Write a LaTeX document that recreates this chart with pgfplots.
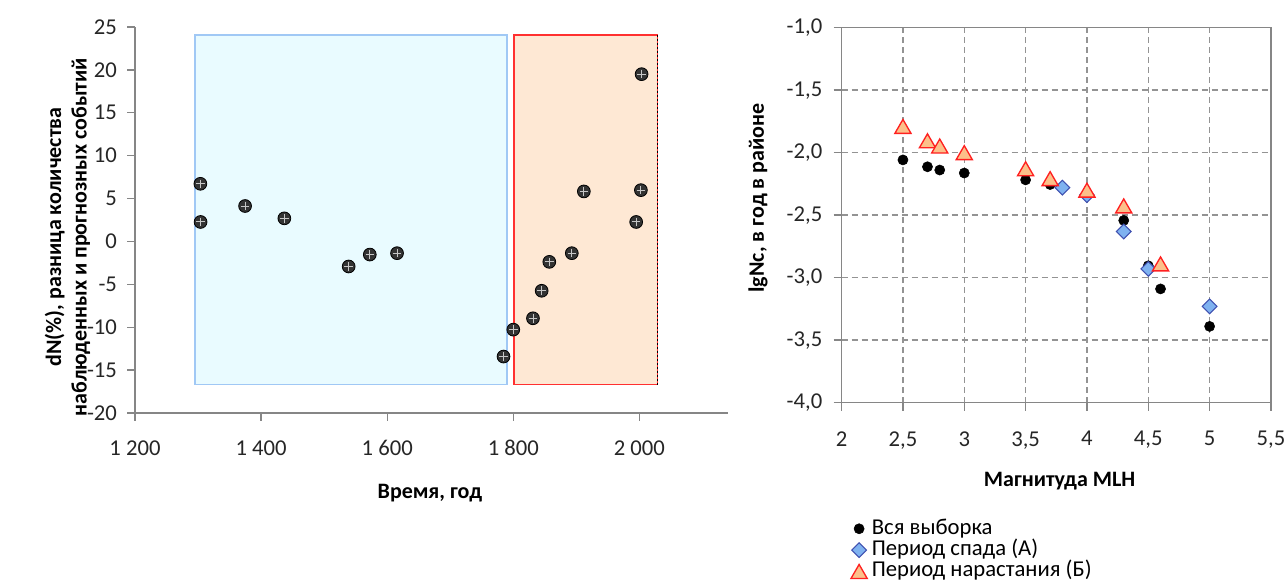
\documentclass[border=0pt]{standalone}
\usepackage{fontspec}
\setmainfont{Carlito}
\usepackage{pgfplots}
\pgfplotsset{compat=1.18}
\definecolor{axgray}{HTML}{868686}
\definecolor{bluefill}{HTML}{E9FBFF}
\definecolor{blueedge}{HTML}{A0C8F5}
\definecolor{orfill}{HTML}{FEE8D4}
\definecolor{rededge}{HTML}{FF3030}
\definecolor{diamfill}{HTML}{7FB2F0}
\definecolor{diamedge}{HTML}{3F50B0}
\definecolor{trifill}{HTML}{FCC08A}
\definecolor{triedge}{HTML}{FF2020}
\pgfplotstableread{
x y
1303.7 6.72
1304.0 2.27
1374.6 4.13
1436.9 2.69
1538.9 -2.92
1572.4 -1.53
1615.6 -1.37
1784.5 -13.42
1800.0 -10.28
1831.2 -8.96
1845.0 -5.75
1857.1 -2.38
1892.8 -1.37
1911.9 5.83
1994.9 2.27
2002.4 5.98
2003.5 19.50
}\dNdata
\pgfplotstableread{
x y
2.5 -2.058
2.7 -2.113
2.8 -2.139
3.0 -2.163
3.5 -2.218
3.7 -2.255
4.0 -2.330
4.3 -2.542
4.5 -2.905
4.6 -3.090
5.0 -3.390
}\allsample
\pgfplotstableread{
x y
3.8 -2.280
4.0 -2.340
4.3 -2.630
4.5 -2.930
5.0 -3.230
}\periodA
\pgfplotstableread{
x y
2.5 -1.790
2.7 -1.905
2.8 -1.947
3.0 -2.000
3.5 -2.129
3.7 -2.208
4.0 -2.300
4.3 -2.426
4.6 -2.890
}\periodB
\begin{document}
\begin{tikzpicture}[x=1pt,y=1pt]
\useasboundingbox (0,0) rectangle (963.75,438);
% ---------- left chart ----------
\begin{axis}[
  at={(101.25pt,128.25pt)}, anchor=south west,
  scale only axis, width=444.5pt, height=289.5pt,
  xmin=1200, xmax=2140, ymin=-20, ymax=25,
  axis x line*=bottom, axis y line*=left,
  axis line style={axgray, line width=1pt, -},
  xtick={1200,1400,1600,1800,2000},
  xticklabels={1 200,1 400,1 600,1 800,2 000},
  ytick={-20,-15,-10,-5,0,5,10,15,20,25},
  yticklabels={-20,-15,-10,-5,0,5,10,15,20,25},
  tick align=outside, major tick length=6pt,
  tick style={axgray, line width=1pt},
  ticklabel style={font=\fontsize{17}{20}\selectfont, text=black!85},
  xticklabel style={yshift=-11pt},
  yticklabel style={xshift=-4pt},
  clip=false,
]
\addplot[fill=bluefill, draw=blueedge, line width=1.2pt] coordinates {(1295,-16.7) (1790,-16.7) (1790,24.1) (1295,24.1) (1295,-16.7)};
\addplot[fill=orfill, draw=rededge, line width=1.2pt] coordinates {(1801,-16.7) (2029,-16.7) (2029,24.1) (1801,24.1) (1801,-16.7)};
\addplot[black, dotted, line width=1pt] coordinates {(2029,-16.7) (2029,24.1)};
\addplot[only marks, mark=*, mark size=4.8pt, mark options={fill=black!80, draw=black, line width=0.6pt}] table[x=x,y=y] {\dNdata};
\addplot[only marks, mark=+, mark size=3.2pt, mark options={draw=gray!45, line width=0.7pt}] table[x=x,y=y] {\dNdata};
\end{axis}
% ---------- right chart ----------
\begin{axis}[
  at={(631.2pt,136pt)}, anchor=south west,
  scale only axis, width=322pt, height=281.25pt,
  xmin=2, xmax=5.5, ymin=-4, ymax=-1,
  xtick={2,2.5,3,3.5,4,4.5,5,5.5},
  xticklabels={2,{2,5},3,{3,5},4,{4,5},5,{5,5}},
  ytick={-4,-3.5,-3,-2.5,-2,-1.5,-1},
  yticklabels={{-4,0},{-3,5},{-3,0},{-2,5},{-2,0},{-1,5},{-1,0}},
  xtick pos=bottom, ytick pos=left,
  tick align=outside, major tick length=6pt,
  tick style={axgray, line width=1pt},
  axis line style={axgray, line width=1pt},
  grid=major, major grid style={gray!85, line width=1pt, dash pattern=on 4.5pt off 3pt},
  ticklabel style={font=\fontsize{17}{20}\selectfont, text=black!85},
  xticklabel style={yshift=-12pt},
  yticklabel style={xshift=-5pt},
  legend cell align=left,
  legend style={at={(0.012,-0.300)}, anchor=north west, draw=none, fill=none,
    font=\fontsize{17}{17}\selectfont, row sep=0pt,
    nodes={inner sep=0.5pt, text height=11.5pt, text depth=3.5pt},
    /tikz/every odd column/.append style={column sep=3pt}},
  clip=false,
]
\addplot[only marks, mark=*, mark size=3.8pt, mark options={fill=black, draw=black}] table[x=x,y=y] {\allsample};
\addlegendentry{Вся выборка}
\addplot[only marks, mark=square*, mark size=3.9pt, mark options={rotate=45, fill=diamfill, draw=diamedge, line width=0.8pt}] table[x=x,y=y] {\periodA};
\addlegendentry{Период спада (А)}
\addplot[only marks, mark=triangle*, mark size=7pt, mark options={yshift=-1.75pt, fill=trifill, draw=triedge, line width=1pt}] table[x=x,y=y] {\periodB};
\addlegendentry{Период нарастания (Б)}
\end{axis}
% ---------- axis titles ----------
\node[rotate=90, align=center, font=\bfseries\fontsize{16.5}{19}\selectfont] at (50.6,260.25) {dN(\%), разница количества\\наблюденных и прогнозных событий};
\node[font=\bfseries\fontsize{16.5}{19}\selectfont] at (322.5,68.25) {Время, год};
\node[rotate=90, font=\bfseries\fontsize{16.5}{19}\selectfont] at (568.5,289.5) {lgNc, в год в районе};
\node[font=\bfseries\fontsize{16.5}{19}\selectfont] at (794.7,77.5) {Магнитуда MLH};
\end{tikzpicture}
\end{document}
